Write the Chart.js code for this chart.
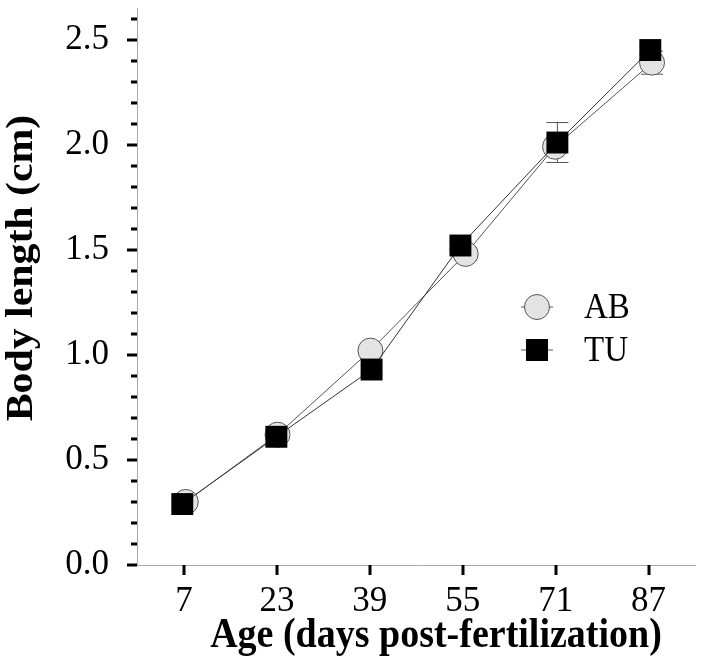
<!DOCTYPE html>
<html>
<head>
<meta charset="utf-8">
<script src="https://cdn.jsdelivr.net/npm/chart.js@4"></script>
<style>
  html, body { margin: 0; padding: 0; background: #fff; }
  #wrap { width: 704px; height: 665px; position: relative; }
</style>
</head>
<body>
<div id="wrap"><canvas id="chart"></canvas></div>
<script>
// ── data ─────────────────────────────────────────────
const ages = [7, 23, 39, 55, 71, 87];
const abX = [7.3, 23.1, 39.1, 55.5, 70.9, 87.6];
const tuX = [6.7, 22.9, 39.3, 54.6, 71.3, 87.3];
const abLength = [0.30, 0.62, 1.02, 1.48, 1.99, 2.39];
const tuLength = [0.29, 0.61, 0.93, 1.52, 2.01, 2.45];
const abErr = [0.01, 0.02, 0.03, 0.03, 0.03, 0.055];
const tuErr = [0.01, 0.01, 0.02, 0.02, 0.095, 0.02];
const yTicks = [0, 0.5, 1.0, 1.5, 2.0, 2.5];
const yMinorStep = 0.1;

const FONT = "'Liberation Serif', 'Times New Roman', serif";
const STRETCH = 1.1; // the original figure is a bit taller than wide

const abPoints = abX.map((x, i) => ({ x, y: abLength[i] }));
const tuPoints = tuX.map((x, i) => ({ x, y: tuLength[i] }));

// text drawn with the vertical stretch of the original figure
function stretchedText(ctx, text, x, y, font, rotate) {
  ctx.save();
  ctx.translate(x, y);
  if (rotate) {
    ctx.rotate(-Math.PI / 2);
    ctx.scale(STRETCH, 1);
  } else {
    ctx.scale(1, STRETCH);
  }
  ctx.font = font;
  ctx.fillText(text, 0, 0);
  ctx.restore();
}

// ── custom drawing: tick marks, error bars, legend, titles ──
const decorations = {
  id: "decorations",
  beforeDatasetsDraw(chart) {
    const { ctx, scales: { x, y } } = chart;
    ctx.save();
    ctx.strokeStyle = "#555";
    ctx.lineWidth = 1;
    const sets = [[abX, abLength, abErr], [tuX, tuLength, tuErr]];
    for (const [xs, vals, errs] of sets) {
      xs.forEach((xv, i) => {
        const px = x.getPixelForValue(xv);
        const top = y.getPixelForValue(vals[i] + errs[i]);
        const bot = y.getPixelForValue(vals[i] - errs[i]);
        ctx.beginPath();
        ctx.moveTo(px, top); ctx.lineTo(px, bot);
        ctx.moveTo(px - 11, top); ctx.lineTo(px + 11, top);
        ctx.moveTo(px - 11, bot); ctx.lineTo(px + 11, bot);
        ctx.stroke();
      });
    }
    ctx.restore();
  },
  afterDraw(chart) {
    const { ctx, chartArea, scales: { x, y } } = chart;
    ctx.save();
    ctx.fillStyle = "#000";
    // y tick marks (major + minor)
    const left = chartArea.left;
    for (let v = 0; v <= y.max + 1e-9; v += yMinorStep) {
      const val = Math.round(v * 10) / 10;
      const py = Math.round(y.getPixelForValue(val));
      const major = yTicks.includes(val);
      const len = major ? 10 : 6;
      ctx.fillRect(left - len, py - 1.5, len, 3);
    }
    // x tick marks
    for (const a of ages) {
      const px = Math.round(x.getPixelForValue(a));
      ctx.fillRect(px - 1.5, chartArea.bottom, 3, 10);
    }

    // legend
    const items = [
      { label: "AB", style: "circle", cy: 307 },
      { label: "TU", style: "rect", cy: 350 },
    ];
    for (const it of items) {
      const cx = 537;
      ctx.strokeStyle = "#555";
      ctx.lineWidth = 1;
      ctx.beginPath();
      ctx.moveTo(cx - 16, it.cy); ctx.lineTo(cx + 16, it.cy);
      ctx.stroke();
      if (it.style === "circle") {
        ctx.beginPath();
        ctx.arc(cx, it.cy, 12.5, 0, Math.PI * 2);
        ctx.fillStyle = "#e3e3e3";
        ctx.fill();
        ctx.stroke();
      } else {
        ctx.fillStyle = "#000";
        ctx.fillRect(cx - 11, it.cy - 11, 22, 22);
      }
      ctx.fillStyle = "#000";
      ctx.textAlign = "left";
      ctx.textBaseline = "alphabetic";
      stretchedText(ctx, it.label, 584, it.cy + 11, `33px ${FONT}`, false);
    }

    // axis titles
    ctx.fillStyle = "#000";
    ctx.textAlign = "center";
    ctx.textBaseline = "alphabetic";
    stretchedText(ctx, "Age (days post-fertilization)", 436, 647, `bold 38px ${FONT}`, false);
    ctx.textBaseline = "middle";
    stretchedText(ctx, "Body length (cm)", 22, 268, `bold 38px ${FONT}`, true);
    ctx.restore();
  },
};

new Chart(document.getElementById("chart"), {
  type: "line",
  data: {
    datasets: [
      {
        label: "AB",
        data: abPoints,
        order: 1,
        borderColor: "#555",
        borderWidth: 1,
        pointStyle: "circle",
        pointRadius: 12.5,
        pointBackgroundColor: "#e3e3e3",
        pointBorderColor: "#555",
        pointBorderWidth: 1,
        tension: 0,
      },
      {
        label: "TU",
        data: tuPoints,
        order: 0,
        borderColor: "#333",
        borderWidth: 1,
        pointStyle: "rect",
        pointRadius: 15.5,
        pointBackgroundColor: "#000",
        pointBorderColor: "#000",
        pointBorderWidth: 0,
        tension: 0,
      },
    ],
  },
  options: {
    responsive: true,
    maintainAspectRatio: false,
    animation: false,
    events: [],
    layout: { autoPadding: false, padding: { top: 8, right: 9, left: 0, bottom: 0 } },
    plugins: {
      legend: { display: false },
      tooltip: { enabled: false },
    },
    elements: { line: { clip: false } },
    scales: {
      x: {
        type: "linear",
        min: -1.1,
        max: 95,
        afterBuildTicks: (scale) => { scale.ticks = ages.map((v) => ({ value: v })); },
        afterFit: (scale) => {
          scale.height = 100;
          scale.paddingLeft = 0;
          scale.paddingRight = 0;
        },
        grid: { display: false, drawTicks: false },
        border: { display: true, color: "#aaa", width: 1 },
        ticks: {
          color: "#000",
          font: { family: FONT, size: 35, lineHeight: 1 },
          padding: 19,
          maxRotation: 0,
          autoSkip: false,
        },
      },
      y: {
        type: "linear",
        min: 0,
        max: 2.65,
        afterBuildTicks: (scale) => { scale.ticks = yTicks.map((v) => ({ value: v })); },
        afterFit: (scale) => {
          scale.width = 137;
          scale.paddingTop = 0;
          scale.paddingBottom = 0;
        },
        grid: { display: false, drawTicks: false },
        border: { display: true, color: "#aaa", width: 1 },
        ticks: {
          color: "#000",
          font: { family: FONT, size: 35, lineHeight: 1 },
          padding: 28,
          callback: (v) => Number(v).toFixed(1),
        },
      },
    },
  },
  plugins: [decorations],
});
</script>
</body>
</html>
